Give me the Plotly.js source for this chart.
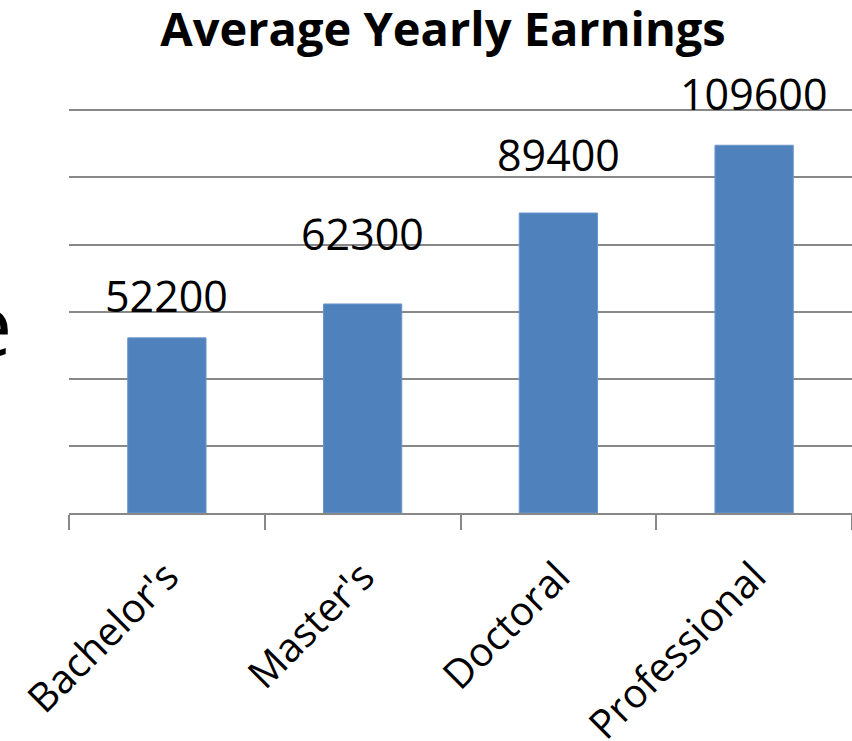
<!DOCTYPE html>
<html>
<head>
<meta charset="utf-8">
<script src="https://cdn.plot.ly/plotly-3.0.1.min.js"></script>
<style>html,body{margin:0;padding:0;background:#fff;}#chart{width:852px;height:741px;}</style>
</head>
<body>
<div id="chart"></div>
<script>
const categories = ["Bachelor's", "Master's", "Doctoral", "Professional"];
const earnings = [52200, 62300, 89400, 109600];
const labelTexts = ["52200", "62300", "89400", "109600"];

// Layout-only: pixel lift of each data label above its bar (as placed in the original)
const labelLift = [26, 54, 42, 35];

const font = "Open Sans, Lato, DejaVu Sans, sans-serif";

const trace = {
  type: 'bar',
  x: categories,
  y: earnings,
  width: 0.4,
  marker: {color: '#4F81BD', line: {color: '#6b96cc', width: 1}},
  hoverinfo: 'skip'
};

const annotations = categories.map((c, i) => ({
  x: c, y: earnings[i], xref: 'x', yref: 'y',
  text: labelTexts[i], showarrow: false,
  xanchor: 'center', yanchor: 'bottom', yshift: labelLift[i] - 15,
  font: {family: font, size: 43, color: '#000'}
}));

annotations.push({
  xref: 'paper', yref: 'paper', x: -55/783, y: (513 - 322) / 406,
  xanchor: 'right', yanchor: 'middle', showarrow: false,
  text: 'e', font: {family: font, size: 86, color: '#000'}
});

const layout = {
  width: 852, height: 741,
  margin: {l: 69, r: 0, t: 107, b: 228},
  paper_bgcolor: '#fff', plot_bgcolor: '#fff',
  showlegend: false,
  title: {
    text: '<b>Average Yearly Earnings</b>',
    font: {family: font, size: 47, color: '#000'},
    xref: 'container', yref: 'container', x: 0.52, y: 1 - 30/741,
    xanchor: 'center', yanchor: 'middle'
  },
  xaxis: {
    type: 'category',
    tickson: 'boundaries',
    ticks: 'outside', ticklen: 15, tickwidth: 2, tickcolor: '#888',
    showline: true, linecolor: '#888', linewidth: 2,
    tickangle: -45,
    ticklabelstandoff: 22,
    tickfont: {family: font, size: 40, color: '#000'},
    showgrid: false, zeroline: false, fixedrange: true
  },
  yaxis: {
    range: [0, 121000], dtick: 20000, tick0: 0,
    showticklabels: false, ticks: '',
    showgrid: true, gridcolor: '#888', gridwidth: 2,
    zeroline: false, showline: false, fixedrange: true
  },
  annotations: annotations
};

Plotly.newPlot('chart', [trace], layout, {displayModeBar: false, staticPlot: true});
</script>
</body>
</html>
